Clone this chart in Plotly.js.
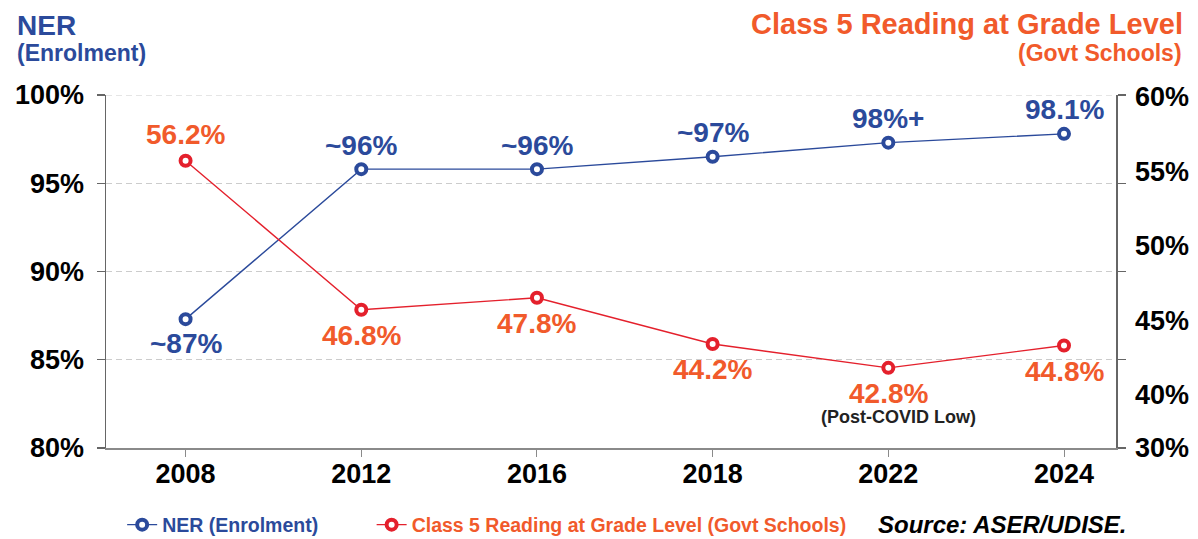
<!DOCTYPE html>
<html><head><meta charset="utf-8">
<script src="https://cdn.plot.ly/plotly-3.0.1.min.js"></script>
<style>html,body{margin:0;padding:0;background:#fff}</style>
</head><body><div id="chart" style="width:1198px;height:539px"></div>
<script>
// ---- data ----
const years = ['2008','2012','2016','2018','2022','2024'];
const nerValues = [87.3, 95.8, 95.8, 96.5, 97.3, 97.8];
const nerLabels = ['~87%','~96%','~96%','~97%','98%+','98.1%'];
const readingValues = [55.7, 45.7, 46.5, 43.4, 41.8, 43.3];
const readingLabels = ['56.2%','46.8%','47.8%','44.2%','42.8%','44.8%'];
const leftTickVals = [80, 85, 90, 95, 100];
const rightTickVals = [40, 45, 50, 55, 60];
const rightBottomTickText = '30%';
const noteText = '(Post-COVID Low)';
const noteYear = '2022';

// ---- style ----
const FONT = 'Liberation Sans, Arial, Helvetica, sans-serif';
const BLUE = '#2B4A9B';
const RED = '#E4202C';
const ORANGE = '#F15A2B';
const nerSide = ['below','above','above','above','above','above'];
const readSide = ['above','below','below','below','below','below'];
const rightMin = 36.42, rightMax = 60.11;
const GRID = {color: '#cccccc', width: 1, dash: '6px,4px'};

const traces = [
  {
    x: years, y: nerValues, type: 'scatter', mode: 'lines+markers',
    name: '<span style="color:' + BLUE + '">NER (Enrolment)</span>',
    line: {color: BLUE, width: 1.4},
    marker: {symbol: 'circle', size: 10, color: '#ffffff', line: {color: BLUE, width: 4}},
    yaxis: 'y', cliponaxis: false, legend: 'legend'
  },
  {
    x: years, y: readingValues, type: 'scatter', mode: 'lines+markers',
    name: '<span style="color:' + ORANGE + '">Class 5 Reading at Grade Level (Govt Schools)</span>',
    line: {color: RED, width: 1.4},
    marker: {symbol: 'circle', size: 10, color: '#ffffff', line: {color: RED, width: 4}},
    yaxis: 'y2', cliponaxis: false, legend: 'legend2'
  }
];

const annotations = [];
years.forEach((yr, i) => {
  annotations.push({
    x: i, y: nerValues[i], xref: 'x', yref: 'y', showarrow: false,
    text: nerLabels[i], yshift: nerSide[i] === 'above' ? 24 : -24,
    font: {family: FONT, size: 28, color: BLUE, weight: 700}
  });
  annotations.push({
    x: i, y: readingValues[i], xref: 'x', yref: 'y2', showarrow: false,
    text: readingLabels[i], yshift: readSide[i] === 'above' ? 26 : -26,
    font: {family: FONT, size: 28, color: ORANGE, weight: 700}
  });
});
annotations.push({
  x: years.indexOf(noteYear), y: readingValues[years.indexOf(noteYear)], xref: 'x', yref: 'y2',
  showarrow: false, text: noteText, yshift: -49, xshift: 10,
  font: {family: FONT, size: 18, color: '#222222', weight: 700}
});
// titles
annotations.push({xref: 'paper', yref: 'paper', x: -0.0901, y: 1.198, xanchor: 'left', yanchor: 'middle',
  showarrow: false, text: 'NER', font: {family: FONT, size: 28, color: BLUE, weight: 700}});
annotations.push({xref: 'paper', yref: 'paper', x: -0.0901, y: 1.118, xanchor: 'left', yanchor: 'middle',
  showarrow: false, text: '(Enrolment)', font: {family: FONT, size: 23, color: BLUE, weight: 700}});
annotations.push({xref: 'paper', yref: 'paper', x: 1.0683, y: 1.201, xanchor: 'right', yanchor: 'middle',
  showarrow: false, text: 'Class 5 Reading at Grade Level', font: {family: FONT, size: 29, color: ORANGE, weight: 700}});
annotations.push({xref: 'paper', yref: 'paper', x: 1.0673, y: 1.118, xanchor: 'right', yanchor: 'middle',
  showarrow: false, text: '(Govt Schools)', font: {family: FONT, size: 23, color: ORANGE, weight: 700}});
annotations.push({xref: 'paper', yref: 'paper', x: 0.762, y: -0.218, xanchor: 'left', yanchor: 'middle',
  showarrow: false, text: 'Source: ASER/UDISE.', font: {family: FONT, size: 24, color: '#000000', weight: 700, style: 'italic'}});

const legendCommon = {
  orientation: 'h', y: -0.218, xanchor: 'left', yanchor: 'middle',
  font: {family: FONT, size: 19.5, weight: 700}, bgcolor: 'rgba(0,0,0,0)'
};

const layout = {
  width: 1198, height: 539,
  margin: {l: 106, r: 82, t: 95, b: 90.5, pad: 0, autoexpand: false},
  paper_bgcolor: '#ffffff', plot_bgcolor: '#ffffff',
  font: {family: FONT, color: '#000000'},
  showlegend: true,
  legend: Object.assign({x: 0.016}, legendCommon),
  legend2: Object.assign({x: 0.263}, legendCommon),
  xaxis: {
    type: 'category', range: [-0.453, 5.296],
    showline: true, linecolor: '#8a8a8a', linewidth: 2,
    ticks: 'outside', ticklen: 7, tickcolor: '#8a8a8a', tickwidth: 1,
    showgrid: false, zeroline: false, ticklabelstandoff: -6,
    tickfont: {family: FONT, size: 27, color: '#000000', weight: 700}
  },
  yaxis: {
    range: [80, 100], tickvals: leftTickVals, ticktext: leftTickVals.map(v => v + '%'),
    showline: true, linecolor: '#666666', linewidth: 1.5, mirror: 'ticks',
    ticks: 'outside', ticklen: 8, tickcolor: '#666666', tickwidth: 1.2,
    showgrid: true, gridcolor: GRID.color, gridwidth: GRID.width, griddash: GRID.dash,
    zeroline: false, ticklabelstandoff: 7,
    tickfont: {family: FONT, size: 27, color: '#000000', weight: 700}
  },
  yaxis2: {
    range: [rightMin, rightMax], overlaying: 'y', side: 'right',
    tickvals: [rightMin + 0.01].concat(rightTickVals),
    ticktext: [rightBottomTickText].concat(rightTickVals.map(v => v + '%')),
    showline: false, ticks: '', showgrid: false, zeroline: false,
    ticklabelstandoff: 18,
    tickfont: {family: FONT, size: 27, color: '#000000', weight: 700}
  },
  shapes: [{
    type: 'line', xref: 'paper', yref: 'y', x0: 0, x1: 1,
    y0: leftTickVals[leftTickVals.length - 1], y1: leftTickVals[leftTickVals.length - 1],
    line: {color: GRID.color, width: GRID.width, dash: GRID.dash}, layer: 'below'
  }],
  annotations: annotations
};

Plotly.newPlot('chart', traces, layout, {displayModeBar: false, staticPlot: true});
</script></body></html>
